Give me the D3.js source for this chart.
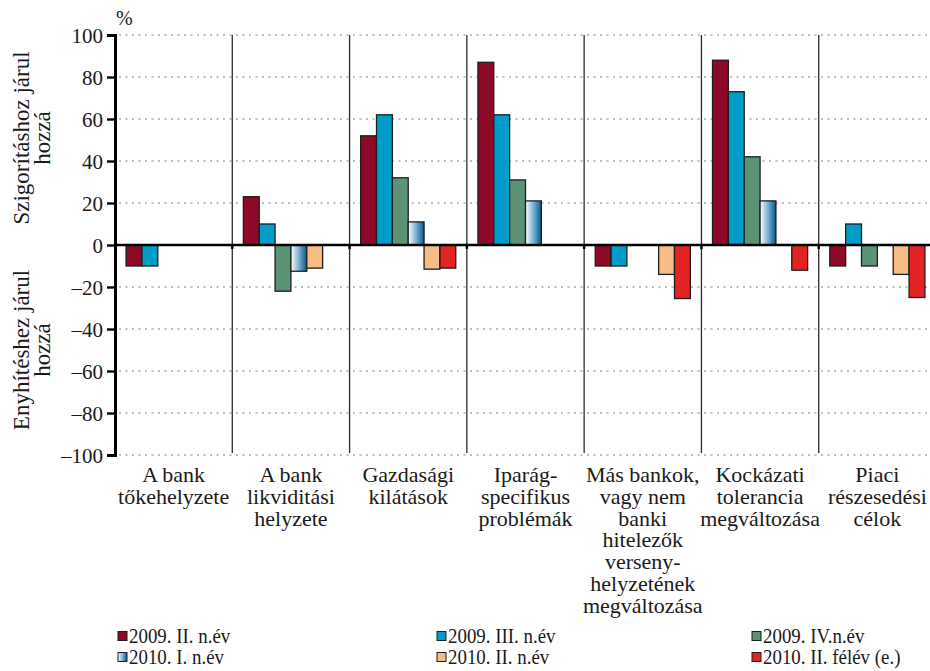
<!DOCTYPE html>
<html>
<head>
<meta charset="utf-8">
<script src="https://cdn.jsdelivr.net/npm/d3@7"></script>
<style>
  html, body { margin: 0; padding: 0; background: #fff; }
  svg { display: block; }
</style>
</head>
<body>
<svg id="chart" width="930" height="671"></svg>
<script>
// Categories (multi-line labels)
const categories = [
  ["A bank", "tőkehelyzete"],
  ["A bank", "likviditási", "helyzete"],
  ["Gazdasági", "kilátások"],
  ["Iparág-", "specifikus", "problémák"],
  ["Más bankok,", "vagy nem", "banki", "hitelezők", "verseny-", "helyzetének", "megváltozása"],
  ["Kockázati", "tolerancia", "megváltozása"],
  ["Piaci", "részesedési", "célok"]
];

const seriesNames = ["2009. II. n.év", "2009. III. n.év", "2009. IV.n.év",
                     "2010. I. n.év", "2010. II. n.év", "2010. II. félév (e.)"];

// One array per series, one value per category (null = no bar)
const s2009q2 = [-10, 23, 52, 87, -10, 88, -10];
const s2009q3 = [-10, 10, 62, 62, -10, 73, 10];
const s2009q4 = [null, -22, 32, 31, null, 42, -10];
const s2010q1 = [null, -12.5, 11, 21, null, 21, null];
const s2010q2 = [null, -11, -11.5, null, -14, null, -14];
const s2010h2 = [null, null, -11, null, -25.5, -12, -25];

const seriesValues = [s2009q2, s2009q3, s2009q4, s2010q1, s2010q2, s2010h2];
const yTicks = [-100, -80, -60, -40, -20, 0, 20, 40, 60, 80, 100];

const colors = ["#8e0827", "#009dc8", "#5a9375", "url(#gradQ1)", "#f7bb84", "#e22321"];
const FONT = "Liberation Serif";
const INK = "#1a1a1a";

const svg = d3.select("#chart");
const defs = svg.append("defs");
const grad = defs.append("linearGradient").attr("id", "gradQ1")
  .attr("x1", "0%").attr("x2", "100%").attr("y1", "0%").attr("y2", "0%");
grad.append("stop").attr("offset", "0%").attr("stop-color", "#ffffff");
grad.append("stop").attr("offset", "55%").attr("stop-color", "#6fa8cc");
grad.append("stop").attr("offset", "100%").attr("stop-color", "#005a8c");

const plotLeft = 115, plotRight = 936, plotTop = 35, plotBottom = 455;

const x = d3.scaleBand().domain(d3.range(categories.length)).range([plotLeft, plotRight]).padding(0);
const xs = d3.scaleBand().domain(d3.range(seriesNames.length)).range([0, x.bandwidth()])
  .paddingOuter(0.7).paddingInner(0);
const y = d3.scaleLinear().domain([-100, 100]).range([plotBottom, plotTop]);

// Dotted gridlines
svg.append("g").selectAll("line").data(yTicks.filter(d => d !== 0)).join("line")
  .attr("x1", plotLeft + 4).attr("x2", 930)
  .attr("y1", d => y(d)).attr("y2", d => y(d))
  .attr("stroke", "#a8a8a8").attr("stroke-width", 1.6)
  .attr("stroke-dasharray", "2,4.5");

// Category separators
svg.append("g").selectAll("line").data(d3.range(1, categories.length)).join("line")
  .attr("x1", d => x(d)).attr("x2", d => x(d))
  .attr("y1", y(100)).attr("y2", y(-100) - 2)
  .attr("stroke", "#2a2a2a").attr("stroke-width", 1.3);

// Bars
const flat = [];
seriesValues.forEach((vals, si) => vals.forEach((v, ci) => {
  if (v !== null) flat.push({ si, ci, v });
}));
svg.append("g").selectAll("rect").data(flat).join("rect")
  .attr("x", d => x(d.ci) + xs(d.si))
  .attr("width", xs.bandwidth())
  .attr("y", d => y(Math.max(0, d.v)))
  .attr("height", d => Math.abs(y(d.v) - y(0)))
  .attr("fill", d => colors[d.si])
  .attr("stroke", "#1e1e1e").attr("stroke-width", 1.3);

// Zero line with small ticks at category boundaries
svg.append("line").attr("x1", plotLeft).attr("x2", 930)
  .attr("y1", y(0)).attr("y2", y(0))
  .attr("stroke", "#000").attr("stroke-width", 2.6);
svg.append("g").selectAll("line").data(d3.range(1, categories.length)).join("line")
  .attr("x1", d => x(d)).attr("x2", d => x(d))
  .attr("y1", y(0)).attr("y2", y(0) + 4)
  .attr("stroke", "#000").attr("stroke-width", 2.4);

// Y axis
const yAxis = svg.append("g").attr("transform", `translate(${plotLeft},0)`)
  .call(d3.axisLeft(y).tickValues(yTicks).tickSize(8).tickPadding(4)
    .tickFormat(d => d < 0 ? "–" + Math.abs(d) : String(d)));
yAxis.attr("font-family", FONT).attr("font-size", 21);
yAxis.select(".domain").attr("stroke", "#000").attr("stroke-width", 3);
yAxis.selectAll(".tick line").attr("stroke", "#000").attr("stroke-width", 2.4);
yAxis.selectAll(".tick text").attr("font-family", FONT).attr("font-size", 21)
  .attr("fill", INK).attr("dy", "0.34em");

svg.append("text").attr("x", 116).attr("y", 25).attr("font-family", FONT)
  .attr("font-size", 20).attr("fill", INK).text("%");

// Y axis titles (one text element per line)
function vTitle(lines, cy) {
  lines.forEach((l, i) => {
    svg.append("text")
      .attr("transform", `translate(${29 + i * 21},${cy}) rotate(-90)`)
      .attr("text-anchor", "middle").attr("font-family", FONT)
      .attr("font-size", 23).attr("fill", INK).text(l);
  });
}
vTitle(["Szigorításhoz járul", "hozzá"], 138);
vTitle(["Enyhítéshez járul", "hozzá"], 350);

// Category labels (one text element per line)
const labelLines = [];
categories.forEach((lines, ci) => lines.forEach((l, li) => labelLines.push({ ci, li, l })));
svg.append("g").selectAll("text").data(labelLines).join("text")
  .attr("text-anchor", "middle").attr("font-family", FONT).attr("font-size", 22).attr("fill", INK)
  .attr("x", d => x(d.ci) + x.bandwidth() / 2)
  .attr("y", d => 482 + d.li * 21.8)
  .text(d => d.l);

// Legend
const legX = [118, 437, 752], legY = [636, 657];
const leg = svg.append("g").selectAll("g").data(seriesNames).join("g")
  .attr("transform", (d, i) => `translate(${legX[i % 3]},${legY[Math.floor(i / 3)]})`);
leg.append("rect").attr("x", 0).attr("y", -4.5).attr("width", 9).attr("height", 9)
  .attr("fill", (d, i) => colors[i]).attr("stroke", "#1e1e1e").attr("stroke-width", 1);
leg.append("text").attr("transform", "translate(11,6.5) scale(0.9,1)")
  .attr("font-family", FONT).attr("font-size", 21).attr("fill", INK).text(d => d);
</script>
</body>
</html>
